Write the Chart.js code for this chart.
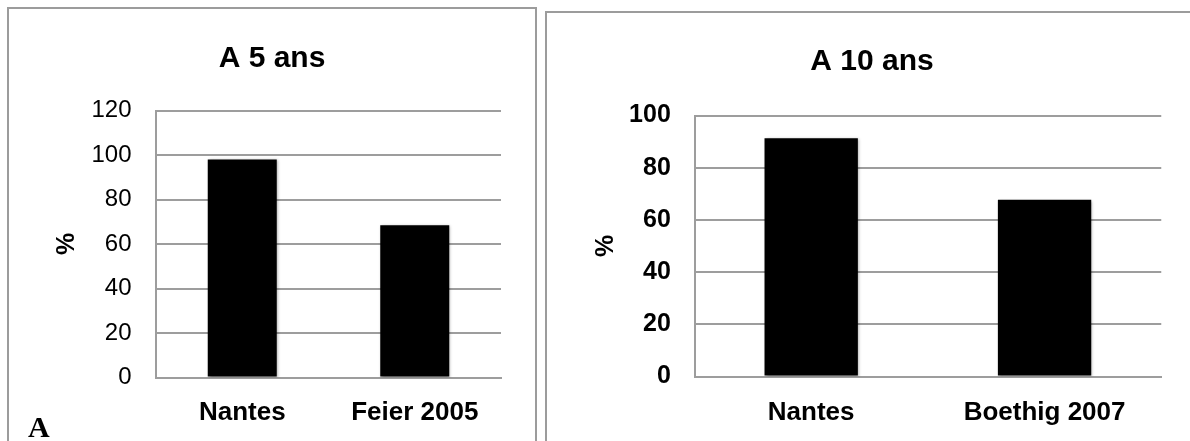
<!DOCTYPE html>
<html>
<head>
<meta charset="utf-8">
<script src="https://cdn.jsdelivr.net/npm/chart.js@4/dist/chart.umd.min.js"></script>
<style>
  html, body { margin: 0; padding: 0; background: #fff; overflow: hidden; }
  body { width: 1190px; height: 441px; position: relative; }
  .panel { position: absolute; box-sizing: border-box; border: 2px solid #9c9c9c; background: #fff; }
  #panel5 { left: 7px; top: 7px; width: 530px; height: 450px; }
  #panel10 { left: 545px; top: 11px; width: 700px; height: 450px; }
  canvas { position: absolute; left: 0; top: 0; }
</style>
</head>
<body>
<div class="panel" id="panel5"><canvas id="chart5" width="526" height="432"></canvas></div>
<div class="panel" id="panel10"><canvas id="chart10" width="650" height="428"></canvas></div>
<script>
// Survival at 5 years
const categories5 = ['Nantes', 'Feier 2005'];
const values5 = [98, 68.4];
const ticks5 = { min: 0, max: 120, step: 20 };
const title5 = 'A 5 ans';

// Survival at 10 years
const categories10 = ['Nantes', 'Boethig 2007'];
const values10 = [91.3, 67.7];
const ticks10 = { min: 0, max: 100, step: 20 };
const title10 = 'A 10 ans';

const axisLabel = '%';
const panelLetter = 'A';

const FONT = "'Liberation Sans', Arial, Helvetica, sans-serif";
const GRID = '#9d9d9d';

// soft shadow under the bars
const barShadow = {
  id: 'barShadow',
  beforeDatasetsDraw(chart) {
    const ctx = chart.ctx;
    ctx.save();
    ctx.shadowColor = 'rgba(0,0,0,0.35)';
    ctx.shadowBlur = 3;
    ctx.shadowOffsetX = 1;
    ctx.shadowOffsetY = 1;
  },
  afterDatasetsDraw(chart) { chart.ctx.restore(); }
};

// serif panel letter in the lower-left corner
const cornerLetter = {
  id: 'cornerLetter',
  afterDraw(chart, args, opts) {
    if (!opts.text) return;
    const ctx = chart.ctx;
    ctx.save();
    ctx.font = "bold 30px 'Liberation Serif', 'Times New Roman', serif";
    ctx.fillStyle = '#000';
    ctx.textBaseline = 'alphabetic';
    ctx.textAlign = 'left';
    ctx.fillText(opts.text, opts.x, opts.y);
    ctx.restore();
  }
};

function makeChart(id, cfg) {
  return new Chart(document.getElementById(id), {
    type: 'bar',
    data: {
      labels: cfg.categories,
      datasets: [{
        data: cfg.values,
        backgroundColor: '#000',
        borderColor: '#000',
        borderWidth: 0,
        barPercentage: 0.4,
        categoryPercentage: 1.0
      }]
    },
    plugins: [barShadow, cornerLetter],
    options: {
      responsive: false,
      animation: false,
      devicePixelRatio: 1,
      layout: { padding: 0 },
      plugins: {
        legend: { display: false },
        tooltip: { enabled: false },
        title: {
          display: true,
          text: cfg.title,
          color: '#000',
          font: { family: FONT, size: 30, weight: 'bold', lineHeight: 1.2 },
          padding: { top: cfg.titleTop, bottom: cfg.titleBottom }
        },
        cornerLetter: cfg.letter || {}
      },
      scales: {
        x: {
          grid: { display: false, drawTicks: false },
          border: { display: true, color: GRID, width: 2 },
          ticks: {
            color: '#000',
            padding: cfg.xPad,
            font: { family: FONT, size: 26, weight: 'bold', lineHeight: 1.2 }
          },
          afterFit(scale) { scale.height = cfg.xHeight; }
        },
        y: {
          min: cfg.ticks.min,
          max: cfg.ticks.max,
          grid: { color: GRID, lineWidth: 2, drawTicks: false },
          border: { display: true, color: GRID, width: 2 },
          ticks: {
            stepSize: cfg.ticks.step,
            color: '#000',
            padding: cfg.yPad,
            font: { family: FONT, size: cfg.yFontSize, weight: cfg.yWeight }
          },
          title: {
            display: true,
            text: axisLabel,
            color: '#000',
            font: { family: FONT, size: 25, weight: 'bold', lineHeight: 1.2 },
            padding: { top: cfg.yTitlePad, bottom: 0 }
          },
          afterFit(scale) { scale.width = cfg.yWidth; }
        },
        // empty margin on the right of the plot, keeps the title centred on the panel
        margin: {
          type: 'linear',
          position: 'right',
          grid: { display: false, drawTicks: false },
          border: { display: false },
          ticks: { display: false },
          afterFit(scale) { scale.width = cfg.padRight; }
        }
      }
    }
  });
}

makeChart('chart5', {
  categories: categories5, values: values5, ticks: ticks5, title: title5,
  padRight: 34, titleTop: 32, titleBottom: 33.5,
  xPad: 20, xHeight: 63.5, yPad: 24.5, yWidth: 147, yTitlePad: 43.5,
  yFontSize: 24, yWeight: 'normal',
  letter: { text: panelLetter, x: 19, y: 427.5 }
});

makeChart('chart10', {
  categories: categories10, values: values10, ticks: ticks10, title: title10,
  padRight: 35.75, titleTop: 31, titleBottom: 35.5,
  xPad: 21, xHeight: 64.5, yPad: 23.7, yWidth: 147.5, yTitlePad: 44,
  yFontSize: 25, yWeight: 'bold'
});
</script>
</body>
</html>
